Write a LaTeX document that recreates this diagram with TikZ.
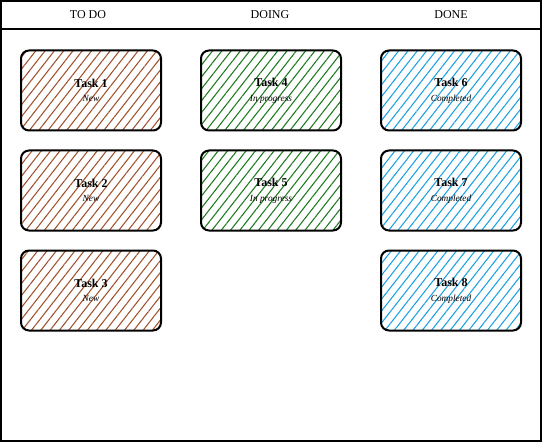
\documentclass[tikz,border=0pt]{standalone}
\usepackage{fontspec}
\setmainfont{Liberation Serif}
\usetikzlibrary{patterns.meta, positioning}
\definecolor{todobrown}{HTML}{A0522D}
\definecolor{doinggreen}{HTML}{1E7A1E}
\definecolor{doneblue}{HTML}{1BA1E2}
\tikzset{
    card/.style={draw, line width=1.5pt, rounded corners=6pt,
        minimum width=105pt, minimum height=60pt, align=center,
        pattern={Lines[angle=52, distance=5.5pt, line width=0.8pt]}},
    todo/.style={card, pattern color=todobrown},
    doing/.style={card, pattern color=doinggreen},
    done/.style={card, pattern color=doneblue},
    head/.style={font=\small}
}
\newcommand{\cardtext}[2]{{\small\bfseries #1}\\[-1pt]{\scriptsize\itshape #2}}
\begin{document}
\begin{tikzpicture}[x=0.75pt, y=-0.75pt]
        \useasboundingbox (0, 0) rectangle (542, 442);
        \draw[line width=1.2pt] (1, 1) rectangle (541, 441);
        \draw[line width=1.2pt] (1, 29) -- (541, 29);

        \node[head] (htodo) at (88, 15) {TO DO};
        \node[head] (hdoing) at (270, 15) {DOING};
        \node[head] (hdone) at (451, 15) {DONE};

        \node[todo] (t1) at (91, 90.5) {\cardtext{Task 1}{New}};
        \node[todo] (t2) at (91, 190.5) {\cardtext{Task 2}{New}};
        \node[todo] (t3) at (91, 290.5) {\cardtext{Task 3}{New}};

        \node[doing] (t4) at (271, 90.5) {\cardtext{Task 4}{In progress}};
        \node[doing] (t5) at (271, 190.5) {\cardtext{Task 5}{In progress}};

        \node[done] (t6) at (451, 90.5) {\cardtext{Task 6}{Completed}};
        \node[done] (t7) at (451, 190.5) {\cardtext{Task 7}{Completed}};
        \node[done] (t8) at (451, 290.5) {\cardtext{Task 8}{Completed}};
    \end{tikzpicture}
\end{document}
